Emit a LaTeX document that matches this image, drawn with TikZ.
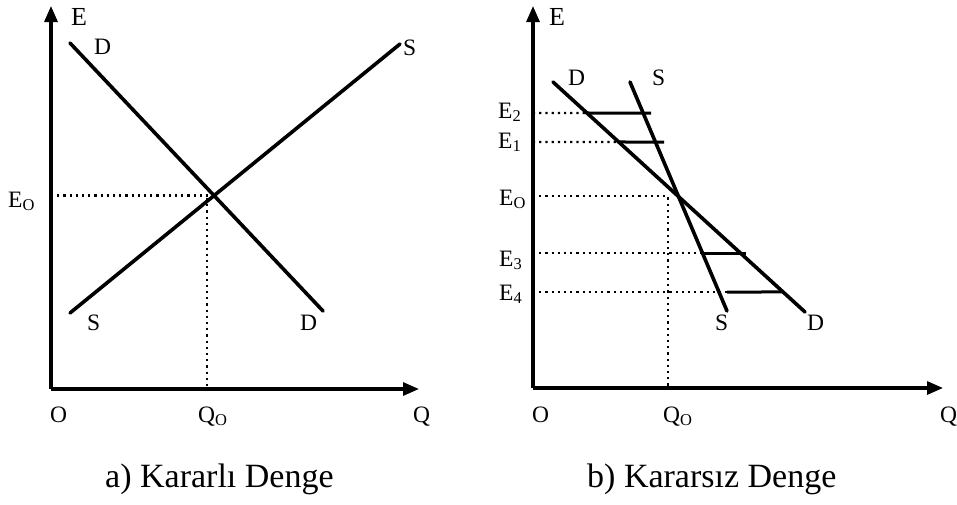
\documentclass[tikz,border=0pt]{standalone}
\usepackage{fontspec}
\setmainfont{Liberation Serif}
\usetikzlibrary{arrows.meta}
\tikzset{
  axis/.style={line width=3.1pt, -{Triangle[length=16pt,width=13pt]}},
  curve/.style={line width=3.6pt, line cap=round},
  guide/.style={line width=2.3pt, dash pattern=on 2.2pt off 4pt},
  gap/.style={line width=3pt},
  lbl/.style={inner sep=0pt, anchor=base west, font=\fontsize{23.5}{26}\selectfont},
  captxt/.style={inner sep=0pt, anchor=base west, font=\fontsize{34}{38}\selectfont}
}
\begin{document}
\begin{tikzpicture}[x=1pt,y=-1pt]
\useasboundingbox (0,0) rectangle (957,504);
% ---------- left panel ----------
\coordinate (LO) at (51,389);
\coordinate (LY) at (51,6);
\coordinate (LX) at (419,389);
\draw[axis] (LO) -- (LY);
\draw[axis] (LO) -- (LX);
\coordinate (LD1) at (70,43);
\coordinate (LD2) at (323,311);
\coordinate (LS1) at (70,313);
\coordinate (LS2) at (400,44);
\draw[curve] (LD1) -- (LD2);
\draw[curve] (LS1) -- (LS2);
\coordinate (LI) at (intersection of LD1--LD2 and LS1--LS2);
\coordinate (LEy) at (LO |- LI);
\draw[guide] (LEy) -- (LI);
\coordinate (LQt) at (207,198);
\coordinate (LQb) at (207,389);
\draw[guide] (LQt) -- (LQb);
\node[lbl, font=\fontsize{26}{28}\selectfont] (lE) at (71,25) {E};
\node[lbl] (lDt) at (94,54) {D};
\node[lbl] (lSt) at (403,55) {S};
\node[lbl] (lSb) at (87,330) {S};
\node[lbl] (lDb) at (300,330) {D};
\node[lbl] (lEo) at (8,207) {E\textsubscript{O}};
\node[lbl] (lO)  at (50,422) {O};
\node[lbl] (lQo) at (198,422) {Q\textsubscript{O}};
\node[lbl] (lQ)  at (413,422) {Q};
% ---------- right panel ----------
\coordinate (RO) at (533,388);
\coordinate (RY) at (533,6);
\coordinate (RX) at (943,388);
\draw[axis] (RO) -- (RY);
\draw[axis] (RO) -- (RX);
\coordinate (RD1) at (553,82);
\coordinate (RD2) at (805,312);
\coordinate (RS1) at (630,82);
\coordinate (RS2) at (727,311);
\draw[curve] (RD1) -- (RD2);
\draw[curve] (RS1) -- (RS2);
% E2
\coordinate (e2a) at (533,113);
\coordinate (e2z) at (900,113);
\coordinate (e2b) at (intersection of RD1--RD2 and e2a--e2z);
\coordinate (e2c) at (651,113);
\draw[guide] (e2a) -- (e2b);
\draw[gap] (e2b) -- (e2c);
% E1
\coordinate (e1a) at (533,142);
\coordinate (e1z) at (900,142);
\coordinate (e1b) at (intersection of RD1--RD2 and e1a--e1z);
\coordinate (e1c) at (664,142);
\draw[guide] (e1a) -- (e1b);
\draw[gap] (e1b) -- (e1c);
% E0
\coordinate (e0a) at (533,196);
\coordinate (e0b) at (668,196);
\coordinate (q0b) at (668,388);
\draw[guide] (e0a) -- (e0b) -- (q0b);
% E3
\coordinate (e3a) at (533,253);
\coordinate (e3z) at (900,253);
\coordinate (e3b) at (intersection of RS1--RS2 and e3a--e3z);
\coordinate (e3c) at (746,253);
\draw[guide] (e3a) -- (e3b);
\draw[gap] (e3b) -- (e3c);
% E4
\coordinate (e4a) at (533,292);
\coordinate (e4b) at (727,292);
\coordinate (e4z) at (900,292);
\coordinate (e4c) at (intersection of RD1--RD2 and e4a--e4z);
\draw[guide] (e4a) -- (e4b);
\draw[gap] (e4b) -- (e4c);
\node[lbl, font=\fontsize{26}{28}\selectfont] (rE) at (549,25) {E};
\node[lbl] (rDt) at (568,85) {D};
\node[lbl] (rSt) at (652,85) {S};
\node[lbl] (rSb) at (715,330) {S};
\node[lbl] (rDb) at (807,330) {D};
\node[lbl] (rE2) at (498,118) {E\textsubscript{2}};
\node[lbl] (rE1) at (498,148) {E\textsubscript{1}};
\node[lbl] (rEo) at (499,205) {E\textsubscript{O}};
\node[lbl] (rE3) at (499,266) {E\textsubscript{3}};
\node[lbl] (rE4) at (499,300) {E\textsubscript{4}};
\node[lbl] (rO)  at (532,422) {O};
\node[lbl] (rQo) at (663,422) {Q\textsubscript{O}};
\node[lbl] (rQ)  at (940,422) {Q};
% ---------- captions ----------
\node[captxt] (capa) at (105,487) {a) Kararlı Denge};
\node[captxt] (capb) at (587,487) {b) Kararsız Denge};
\end{tikzpicture}
\end{document}
